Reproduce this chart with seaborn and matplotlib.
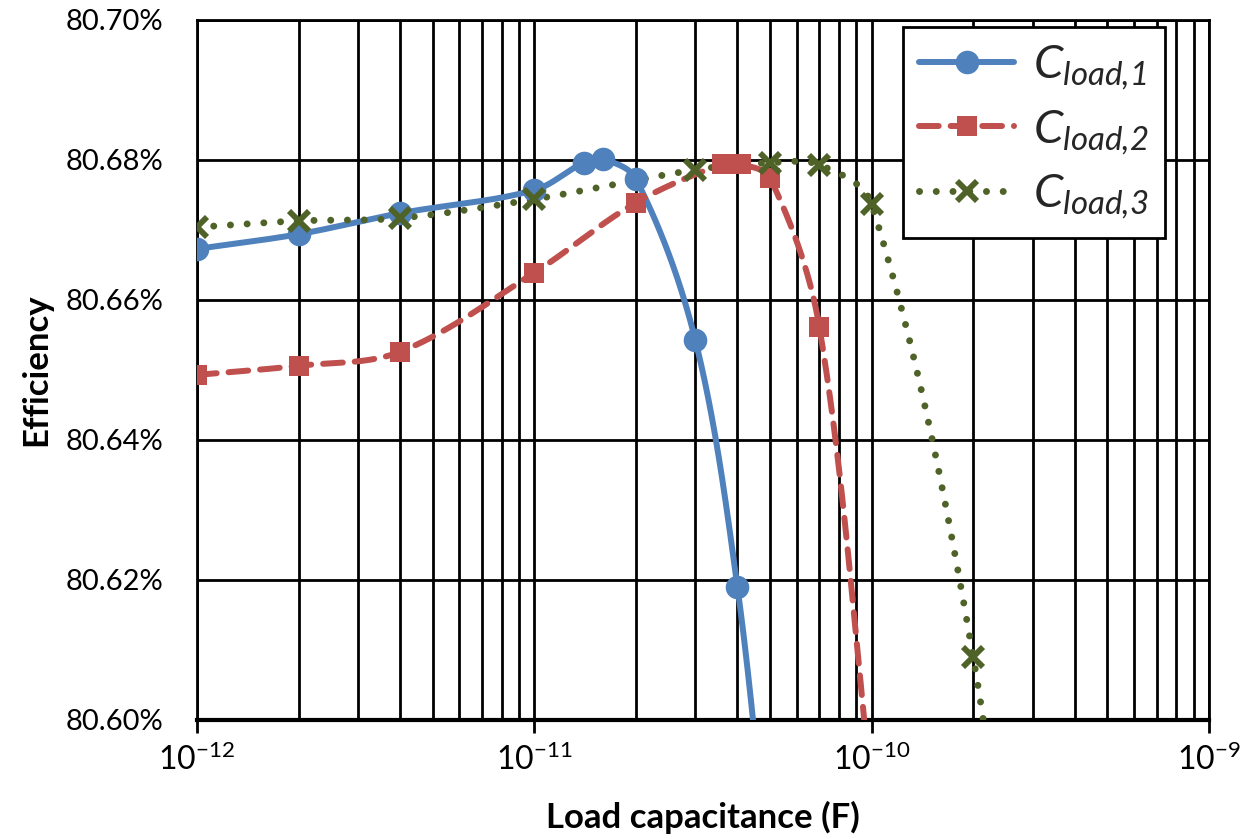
import numpy as np
import pandas as pd
import matplotlib
matplotlib.use("Agg")
import matplotlib.pyplot as plt
from matplotlib.lines import Line2D
from matplotlib.ticker import FuncFormatter, FixedLocator, NullFormatter
import seaborn as sns

# ---------------- data ----------------
blue_x = [1e-12, 2e-12, 4e-12, 1e-11, 1.4e-11, 1.6e-11, 2e-11, 3e-11, 4e-11, 5e-11]
blue_y = [80.6673, 80.6694, 80.6724, 80.6757, 80.6796, 80.6801, 80.6773, 80.6543, 80.6190, 80.5760]

red_x = [1e-12, 2e-12, 4e-12, 1e-11, 2e-11, 3.6e-11, 4.1e-11, 5e-11, 7e-11, 1e-10]
red_y = [80.6493, 80.6506, 80.6526, 80.6639, 80.6739, 80.6794, 80.6794, 80.6774, 80.6561, 80.5900]

green_x = [1e-12, 2e-12, 4e-12, 1e-11, 3e-11, 5e-11, 7e-11, 1e-10, 2e-10, 3e-10]
green_y = [80.6704, 80.6713, 80.6717, 80.6744, 80.6786, 80.6796, 80.6793, 80.6737, 80.6090, 80.5400]

series_labels = [r"$\mathsf{C}_{\mathsf{load{,}1}}$",
                 r"$\mathsf{C}_{\mathsf{load{,}2}}$",
                 r"$\mathsf{C}_{\mathsf{load{,}3}}$"]
x_label = "Load capacitance (F)"
y_label = "Efficiency"
x_major = [1e-12, 1e-11, 1e-10, 1e-9]
y_ticks = [80.60, 80.62, 80.64, 80.66, 80.68, 80.70]

colors = ["#4F81BD", "#C0504D", "#4F6228"]

# ---------------- style ----------------
sns.set_theme(style="white")
plt.rcParams["font.family"] = ["Lato", "DejaVu Sans"]
plt.rcParams["mathtext.fontset"] = "custom"
plt.rcParams["mathtext.rm"] = "Lato"
plt.rcParams["mathtext.it"] = "Lato:italic"
plt.rcParams["mathtext.sf"] = "Lato:italic"
plt.rcParams["mathtext.bf"] = "Lato:bold"

fig = plt.figure(figsize=(12.54, 8.39), dpi=100)
ax = fig.add_axes([197/1254, 1 - 720/839, (1209-197)/1254, 700/839])

XMIN, XMAX, YMIN, YMAX = 1e-12, 1e-9, 80.60, 80.70
PX_DEC = 1012 / 3.0          # pixels per decade
PX_Y = 700 / (YMAX - YMIN)   # pixels per percent


def smooth_curve(xs, ys, n=60, k=1/3.0):
    """Excel-like smoothed line: cubic Bezier, tangent direction from neighbours,
    control distance scaled by the segment length (screen space)."""
    u = (np.log10(np.asarray(xs)) + 12) * PX_DEC
    v = (np.asarray(ys) - YMIN) * PX_Y
    P = np.column_stack([u, v])
    m = len(P)
    D = []
    for i in range(m):
        a = P[i - 1] if i > 0 else P[i]
        b = P[i + 1] if i + 1 < m else P[i]
        d = b - a
        D.append(d / (np.hypot(*d) + 1e-12))
    D = np.array(D)
    out = []
    t = np.linspace(0, 1, n)[:, None]
    for i in range(m - 1):
        p1, p2 = P[i], P[i + 1]
        L = np.hypot(*(p2 - p1))
        c1 = p1 + D[i] * L * k
        c2 = p2 - D[i + 1] * L * k
        seg = ((1 - t) ** 3) * p1 + 3 * ((1 - t) ** 2) * t * c1 + 3 * (1 - t) * t ** 2 * c2 + t ** 3 * p2
        out.append(seg if i == 0 else seg[1:])
    C = np.vstack(out)
    cx = 10 ** (C[:, 0] / PX_DEC - 12)
    cy = C[:, 1] / PX_Y + YMIN
    return cx, cy


styles = [
    dict(ls="-", lw=4.3, marker="o", ms=17, mew=0),
    dict(ls=(0, (3.3, 2.0)), lw=4.3, marker="s", ms=14, mew=0),
    dict(ls=(0, (0.01, 2.4)), lw=5.0, marker="x", ms=15, mew=4.2),
]
all_x = [blue_x, red_x, green_x]
all_y = [blue_y, red_y, green_y]

for xs, ys, col, st in zip(all_x, all_y, colors, styles):
    cx, cy = smooth_curve(xs, ys)
    df = pd.DataFrame({"x": cx, "y": cy})
    sns.lineplot(data=df, x="x", y="y", sort=False, estimator=None, ax=ax,
                 color=col, linewidth=st["lw"], zorder=3)
    ln = ax.lines[-1]
    ln.set_linestyle(st["ls"])
    ln.set_dash_capstyle("round")
    ln.set_solid_capstyle("round")
    ax.plot(xs, ys, linestyle="none", marker=st["marker"], markersize=st["ms"],
            markeredgewidth=st["mew"], color=col, markeredgecolor=col, zorder=4)

ax.set_xscale("log")
ax.set_xlim(XMIN, XMAX)
ax.set_ylim(YMIN, YMAX)

minors = [m * 10.0 ** e for e in (-12, -11, -10) for m in range(2, 10)]
ax.xaxis.set_major_locator(FixedLocator(x_major))
ax.xaxis.set_minor_locator(FixedLocator(minors))
ax.xaxis.set_minor_formatter(NullFormatter())
ax.xaxis.set_major_formatter(FuncFormatter(lambda v, p: rf"$10^{{{int(round(np.log10(v)))}}}$"))
ax.yaxis.set_major_locator(FixedLocator(y_ticks))
ax.yaxis.set_major_formatter(FuncFormatter(lambda v, p: f"{v:.2f}%"))

ax.grid(True, which="major", color="black", linewidth=2.0)
ax.grid(True, which="minor", axis="x", color="black", linewidth=2.0)
for s in ax.spines.values():
    s.set_color("black")
    s.set_linewidth(2.0)
ax.spines["bottom"].set_linewidth(3.0)

ax.tick_params(axis="x", which="major", direction="out", length=9, width=2,
               color="black", labelsize=23, pad=8, bottom=True)
ax.tick_params(axis="x", which="minor", length=0)
ax.tick_params(axis="y", which="major", length=0, labelsize=21, pad=24, left=True)
for lbl in ax.get_xticklabels() + ax.get_yticklabels():
    lbl.set_color("black")

ax.set_xlabel(x_label, fontsize=25, fontweight="bold", labelpad=18, color="black")
ax.set_ylabel(y_label, fontsize=25, fontweight="bold", labelpad=10, color="black")

handles = []
for col, st in zip(colors, styles):
    h = Line2D([0], [0], color=col, linewidth=st["lw"], linestyle=st["ls"],
               marker=st["marker"], markersize=st["ms"], markeredgewidth=st["mew"],
               markeredgecolor=col, dash_capstyle="round", solid_capstyle="round")
    handles.append(h)
leg = ax.legend(handles, series_labels, loc="upper right",
                bbox_to_anchor=((1165-197)/1012, (720-27)/700),
                fontsize=34, frameon=True, fancybox=False, framealpha=1,
                edgecolor="black", handlelength=2.0, handletextpad=0.4,
                borderpad=0.35, labelspacing=0.35, borderaxespad=0)
leg.get_frame().set_linewidth(2.0)
leg.set_zorder(10)

fig.savefig("out.png", dpi=100)
